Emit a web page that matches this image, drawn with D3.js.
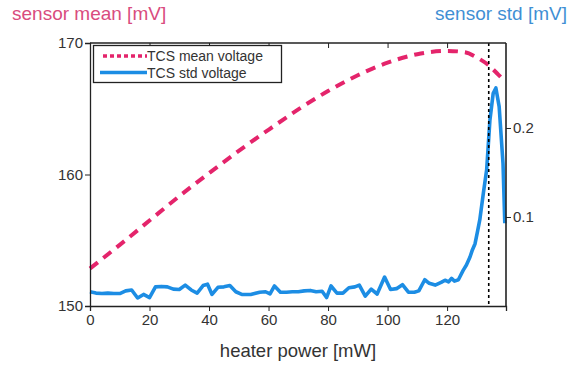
<!DOCTYPE html>
<html><head><meta charset="utf-8">
<script src="https://cdn.jsdelivr.net/npm/d3@7"></script>
<style>body{margin:0;background:#fff}svg{display:block;font-family:"Liberation Sans",Arial,Helvetica,sans-serif}</style>
</head><body><svg id="c" width="571" height="366"></svg>
<script>
const meanPower = [0,10,20,30,40,50,60,70,80,90,100,110,120,126,130,134,137.2,139.4];
const meanValue = [152.85,154.65,156.5,158.35,160.1,161.8,163.4,164.95,166.35,167.55,168.5,169.15,169.4,169.3,168.9,168.3,167.6,167.1];

const stdPower = [0,2,4,6,8,10,12,14,16,18,20,22,24,26,28,30,32,34,36,38,39.5,41,43,45,47,49,51,54,57,59,60.5,62,64,66,68,70,72,74,76,78,79.5,81,83,85,87,89,90.5,92.5,94.5,96.5,99,101,103,105,107,109,110.5,112.5,114,116,118,119.3,120.5,121.5,122.5,123.8,125.4,126.5,127.7,128.5,129.4,130.3,131,132.2,133.3,134.4,135.5,136.4,137.5,138.8,139.4];
const stdValue = [0.016,0.0145,0.014,0.0145,0.014,0.014,0.017,0.018,0.009,0.013,0.0095,0.0215,0.022,0.0215,0.019,0.0185,0.0235,0.018,0.0145,0.023,0.0245,0.013,0.021,0.0215,0.023,0.016,0.013,0.013,0.0155,0.016,0.0135,0.0225,0.0155,0.0155,0.016,0.016,0.017,0.0175,0.016,0.0165,0.0095,0.0225,0.0145,0.0145,0.0205,0.0215,0.0235,0.011,0.019,0.0135,0.0325,0.0185,0.0195,0.024,0.0155,0.0155,0.017,0.0295,0.0255,0.0235,0.0265,0.029,0.027,0.031,0.028,0.0295,0.040,0.046,0.055,0.063,0.070,0.085,0.097,0.127,0.153,0.209,0.239,0.245,0.224,0.160,0.093];

const xTicks = [0,20,40,60,80,100,120];
const leftTicks = [150,160,170];
const rightTicks = [0.1,0.2];
const markerPower = 134;
const legendLabels = ["TCS mean voltage","TCS std voltage"];

const W=571,H=366, m={l:90,r:65,t:43,b:60};
const svg=d3.select("#c");
const x=d3.scaleLinear().domain([0,139.8]).range([m.l,W-m.r]);
const yL=d3.scaleLinear().domain([150,170]).range([H-m.b,m.t]);
const yR=d3.scaleLinear().domain([0,0.2955]).range([H-m.b,m.t]);
const pink="#e4246b", blue="#1c8de4", txt="#333";

// std line
svg.append("path").datum(stdPower.map((p,i)=>[p,stdValue[i]]))
  .attr("fill","none").attr("stroke",blue).attr("stroke-width",3.6).attr("stroke-linejoin","round")
  .attr("d",d3.line().x(d=>x(d[0])).y(d=>yR(d[1])));
// mean line
svg.append("path").datum(meanPower.map((p,i)=>[p,meanValue[i]]))
  .attr("fill","none").attr("stroke",pink).attr("stroke-width",4).attr("stroke-dasharray","10,7")
  .attr("d",d3.line().curve(d3.curveMonotoneX).x(d=>x(d[0])).y(d=>yL(d[1])));
// marker
svg.append("line").attr("x1",x(markerPower)).attr("x2",x(markerPower)).attr("y1",m.t).attr("y2",H-m.b)
  .attr("stroke","#000").attr("stroke-width",1.6).attr("stroke-dasharray","3,3");

// axes
const ax=(g,fs)=>{g.selectAll("text").attr("font-size",fs).attr("fill",txt).attr("font-family","Liberation Sans,Arial");g.selectAll("line,path").attr("stroke","#222");};
svg.append("g").attr("transform",`translate(0,${H-m.b})`)
  .call(d3.axisBottom(x).tickValues(xTicks).tickSize(5).tickPadding(3).tickFormat(d3.format("d")))
  .call(g=>ax(g,15)).call(g=>g.select(".domain").attr("stroke-width",1.3));
svg.append("g").attr("transform",`translate(0,${m.t})`)
  .call(d3.axisBottom(x).tickValues(xTicks).tickSize(5).tickFormat(""))
  .call(g=>ax(g,15)).call(g=>g.select(".domain").attr("d",`M${m.l},0H${W-m.r}`).attr("stroke-width",1.3));
svg.append("g").attr("transform",`translate(${m.l},0)`)
  .call(d3.axisLeft(yL).tickValues(leftTicks).tickSize(5).tickPadding(2).tickFormat(d3.format("d")))
  .call(g=>ax(g,15)).call(g=>g.select(".domain").attr("stroke-width",1.3));
svg.append("g").attr("transform",`translate(${W-m.r},0)`)
  .call(d3.axisRight(yR).tickValues(rightTicks).tickSize(5).tickPadding(2).tickFormat(d3.format(".1f")))
  .call(g=>ax(g,15)).call(g=>g.select(".domain").attr("d",`M0,${m.t}V${H-m.b}`).attr("stroke-width",1.6));

// labels
svg.append("text").attr("x",12).attr("y",20).attr("font-size",19).attr("fill","#d94c7e").text("sensor mean [mV]");
svg.append("text").attr("x",567).attr("y",20).attr("text-anchor","end").attr("font-size",19).attr("fill","#3f8fd4").text("sensor std [mV]");
svg.append("text").attr("x",298).attr("y",357).attr("text-anchor","middle").attr("font-size",18.5).attr("fill",txt).text("heater power [mW]");

// legend
const lg=svg.append("g");
lg.append("rect").attr("x",93.5).attr("y",45.5).attr("width",188).attr("height",37).attr("fill","#fff").attr("stroke","#222").attr("stroke-width",1.3);
lg.append("line").attr("x1",103).attr("x2",147).attr("y1",56).attr("y2",56).attr("stroke",pink).attr("stroke-width",3.5).attr("stroke-dasharray","4,3");
lg.append("line").attr("x1",100).attr("x2",147).attr("y1",72.5).attr("y2",72.5).attr("stroke",blue).attr("stroke-width",3.5);
legendLabels.forEach((t,i)=>lg.append("text").attr("x",147).attr("y",61+i*16.5).attr("font-size",14).attr("fill",txt).text(t));
</script></body></html>
